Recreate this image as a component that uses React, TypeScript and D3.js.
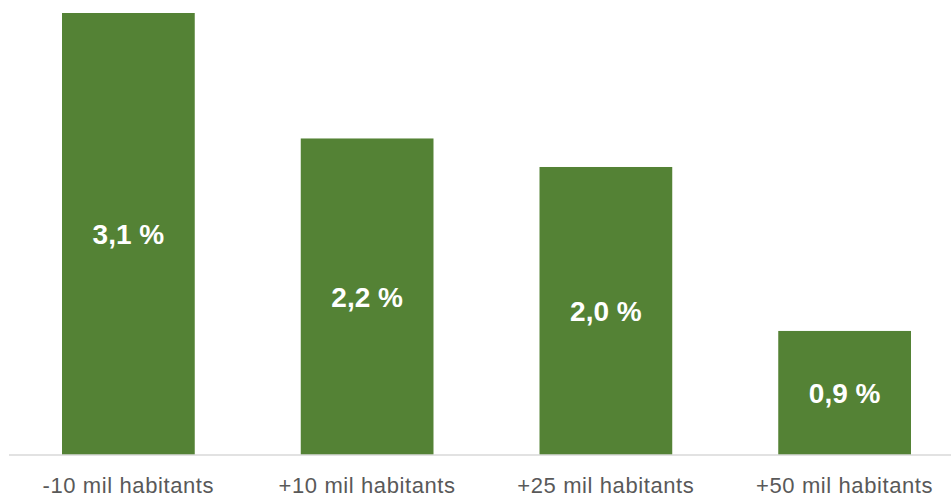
import React from "react";
import * as d3 from "d3";

const categories = ["-10 mil habitants", "+10 mil habitants", "+25 mil habitants", "+50 mil habitants"];
const values = [3.1, 2.22, 2.02, 0.87];
const valueLabels = ["3,1 %", "2,2 %", "2,0 %", "0,9 %"];

const W = 951;
const H = 497;

export default function App() {
  const x = d3.scaleBand<string>().domain(categories).range([9, 964]).paddingInner(0.444).paddingOuter(0.222);
  const y = d3.scaleLinear().domain([0, 3.1]).range([455, 13]);
  return (
    <svg width={W} height={H} style={{ position: "absolute", left: 0, top: 0 }}>
      <rect x={0} y={0} width={W} height={H} fill="#ffffff" />
      {categories.map((c, i) => {
        const bx = x(c)!;
        const by = y(values[i]);
        const bh = y(0) - by;
        return (
          <g key={c}>
            <rect x={bx} y={by} width={x.bandwidth()} height={bh} fill="#548235" />
            <text
              x={bx + x.bandwidth() / 2}
              y={by + bh / 2}
              dy="0.36em"
              textAnchor="middle"
              fill="#ffffff"
              fontFamily="Liberation Sans, Arial, sans-serif"
              fontWeight="bold"
              fontSize={28}
            >
              {valueLabels[i]}
            </text>
            <text
              x={bx + x.bandwidth() / 2}
              y={493}
              textAnchor="middle"
              fill="#595959"
              fontFamily="Liberation Sans, Arial, sans-serif"
              fontSize={22}
              letterSpacing={0.6}
            >
              {c}
            </text>
          </g>
        );
      })}
      <line x1={9} x2={W} y1={y(0)} y2={y(0)} stroke="#d9d9d9" strokeWidth={1.5} />
    </svg>
  );
}
